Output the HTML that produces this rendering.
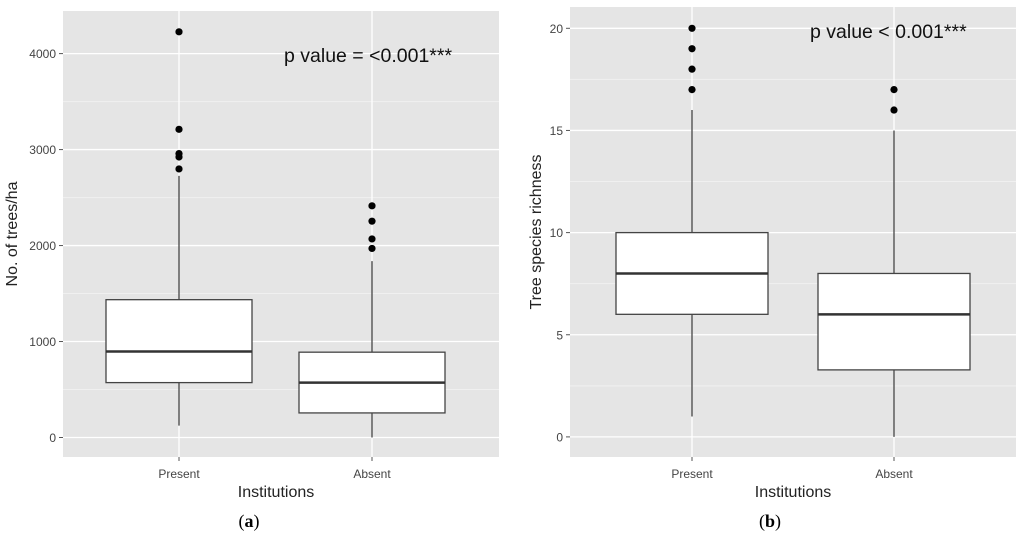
<!DOCTYPE html>
<html><head><meta charset="utf-8"><style>
html,body{margin:0;padding:0;background:#fff;}
svg{display:block;font-family:"Liberation Sans",sans-serif;}
</style></head><body>
<svg id="s" width="1024" height="535" viewBox="0 0 1024 535"></svg>
<script>
const categories = ["Present","Absent"];
// Panel a: No. of trees/ha
const aTicks = [0,1000,2000,3000,4000];
const aLow = [124, 0];
const aQ1 = [572, 256];
const aMed = [896, 572];
const aQ3 = [1436, 889];
const aHigh = [2726, 1838];
const aOut = [[4227,3211,2958,2923,2798],[2414,2254,2069,1970]];
// Panel b: Tree species richness
const bTicks = [0,5,10,15,20];
const bLow = [1, 0];
const bQ1 = [6, 3.28];
const bMed = [8, 6];
const bQ3 = [10, 8];
const bHigh = [16, 15];
const bOut = [[17,18,19,20],[16,17]];

const NS="http://www.w3.org/2000/svg";
const svg=document.getElementById('s');
function el(tag,attrs,parent){const e=document.createElementNS(NS,tag);for(const k in attrs)e.setAttribute(k,attrs[k]);(parent||svg).appendChild(e);return e;}

function panel(p){
  const g=el('g',{});
  
  
  const y=v=>p.y0+(v-p.t0)*(p.y1-p.y0)/(p.t1-p.t0);
  const bg=el('rect',{x:p.left,y:p.top,width:p.right-p.left,height:p.bottom-p.top,fill:'#e5e5e5'},g);
  
  
  for(let i=0;i<p.ticks.length-1;i++){
    const m=(p.ticks[i]+p.ticks[i+1])/2;
    const l=el('line',{x1:p.left,x2:p.right,y1:y(m),y2:y(m),stroke:'#f0f0f0','stroke-width':1},g);
    
    
  }
  const topMinor=p.ticks[p.ticks.length-1]+(p.ticks[1]-p.ticks[0])/2;
  if(y(topMinor)>p.top){const l=el('line',{x1:p.left,x2:p.right,y1:y(topMinor),y2:y(topMinor),stroke:'#f0f0f0','stroke-width':1},g);
    
    }
  p.ticks.forEach(t=>{
    const l=el('line',{x1:p.left,x2:p.right,y1:y(t),y2:y(t),stroke:'#fff','stroke-width':1.3},g);
    
    
    el('line',{x1:p.left-4,x2:p.left,y1:y(t),y2:y(t),stroke:'#555','stroke-width':1},g);
    const tx=el('text',{x:p.left-7,y:y(t)+4.5,'text-anchor':'end','font-size':12,fill:'#444'},g);
    tx.textContent=t;
    
    
  });
  categories.forEach((c,i)=>{
    const cx=p.cx[i];
    const v=el('line',{x1:cx,x2:cx,y1:p.top,y2:p.bottom,stroke:'#fff','stroke-width':1.3},g);
    
    
  });
  categories.forEach((c,i)=>{
    const cx=p.cx[i],hw=p.hw;
    const w=el('line',{x1:cx,x2:cx,y1:y(p.low[i]),y2:y(p.high[i]),stroke:'#444','stroke-width':1.3},g);
    
    
    const b=el('rect',{x:cx-hw,y:y(p.q3[i]),width:2*hw,height:y(p.q1[i])-y(p.q3[i]),fill:'#fff',stroke:'#444','stroke-width':1.3},g);
    
    
    const m=el('line',{x1:cx-hw,x2:cx+hw,y1:y(p.med[i]),y2:y(p.med[i]),stroke:'#333','stroke-width':2.5},g);
    
    
    p.out[i].forEach(o=>{
      const d=el('circle',{cx:cx,cy:y(o),r:3.6,fill:'#000'},g);
      
      
    });
    el('line',{x1:cx,x2:cx,y1:p.bottom,y2:p.bottom+4,stroke:'#555','stroke-width':1},g);
    const xl=el('text',{x:cx,y:478,'text-anchor':'middle','font-size':12,fill:'#444'},g);
    xl.textContent=c;
    
    
  });
  const xt=el('text',{x:p.xtX,y:497,'text-anchor':'middle','font-size':16,fill:'#222'},g);
  xt.textContent='Institutions';
  
  
  const yt=el('text',{x:0,y:0,transform:`translate(${p.ytX},${(p.top+p.bottom)/2}) rotate(-90)`,'text-anchor':'middle','font-size':16,fill:'#222'},g);
  yt.textContent=p.ytitle;
  
  
  const pv=el('text',{x:p.pvX,y:p.pvY,'font-size':19.5,fill:'#111'},g);
  pv.textContent=p.pv;
  
  
  const lab=el('text',{x:p.labX,y:527,'text-anchor':'middle','font-size':18,fill:'#000','font-family':'Liberation Serif, serif'},g);
  lab.innerHTML='(<tspan font-weight="bold">'+p.label+'</tspan>)';
  
  
}
panel({name:'panel-a',left:63,right:499,top:11,bottom:457,t0:0,t1:4000,y0:437.5,y1:53.6,ticks:aTicks,
  cx:[179,372],hw:73,low:aLow,q1:aQ1,med:aMed,q3:aQ3,high:aHigh,out:aOut,
  xtX:276,ytX:17,ytitle:'No. of trees/ha',pv:'p value = <0.001***',pvX:284,pvY:62,label:'a',labX:249});
panel({name:'panel-b',left:570,right:1016,top:7,bottom:457,t0:0,t1:20,y0:436.9,y1:28.3,ticks:bTicks,
  cx:[692,894],hw:76,low:bLow,q1:bQ1,med:bMed,q3:bQ3,high:bHigh,out:bOut,
  xtX:793,ytX:541,ytitle:'Tree species richness',pv:'p value < 0.001***',pvX:810,pvY:38,label:'b',labX:770});
</script>
</body></html>
